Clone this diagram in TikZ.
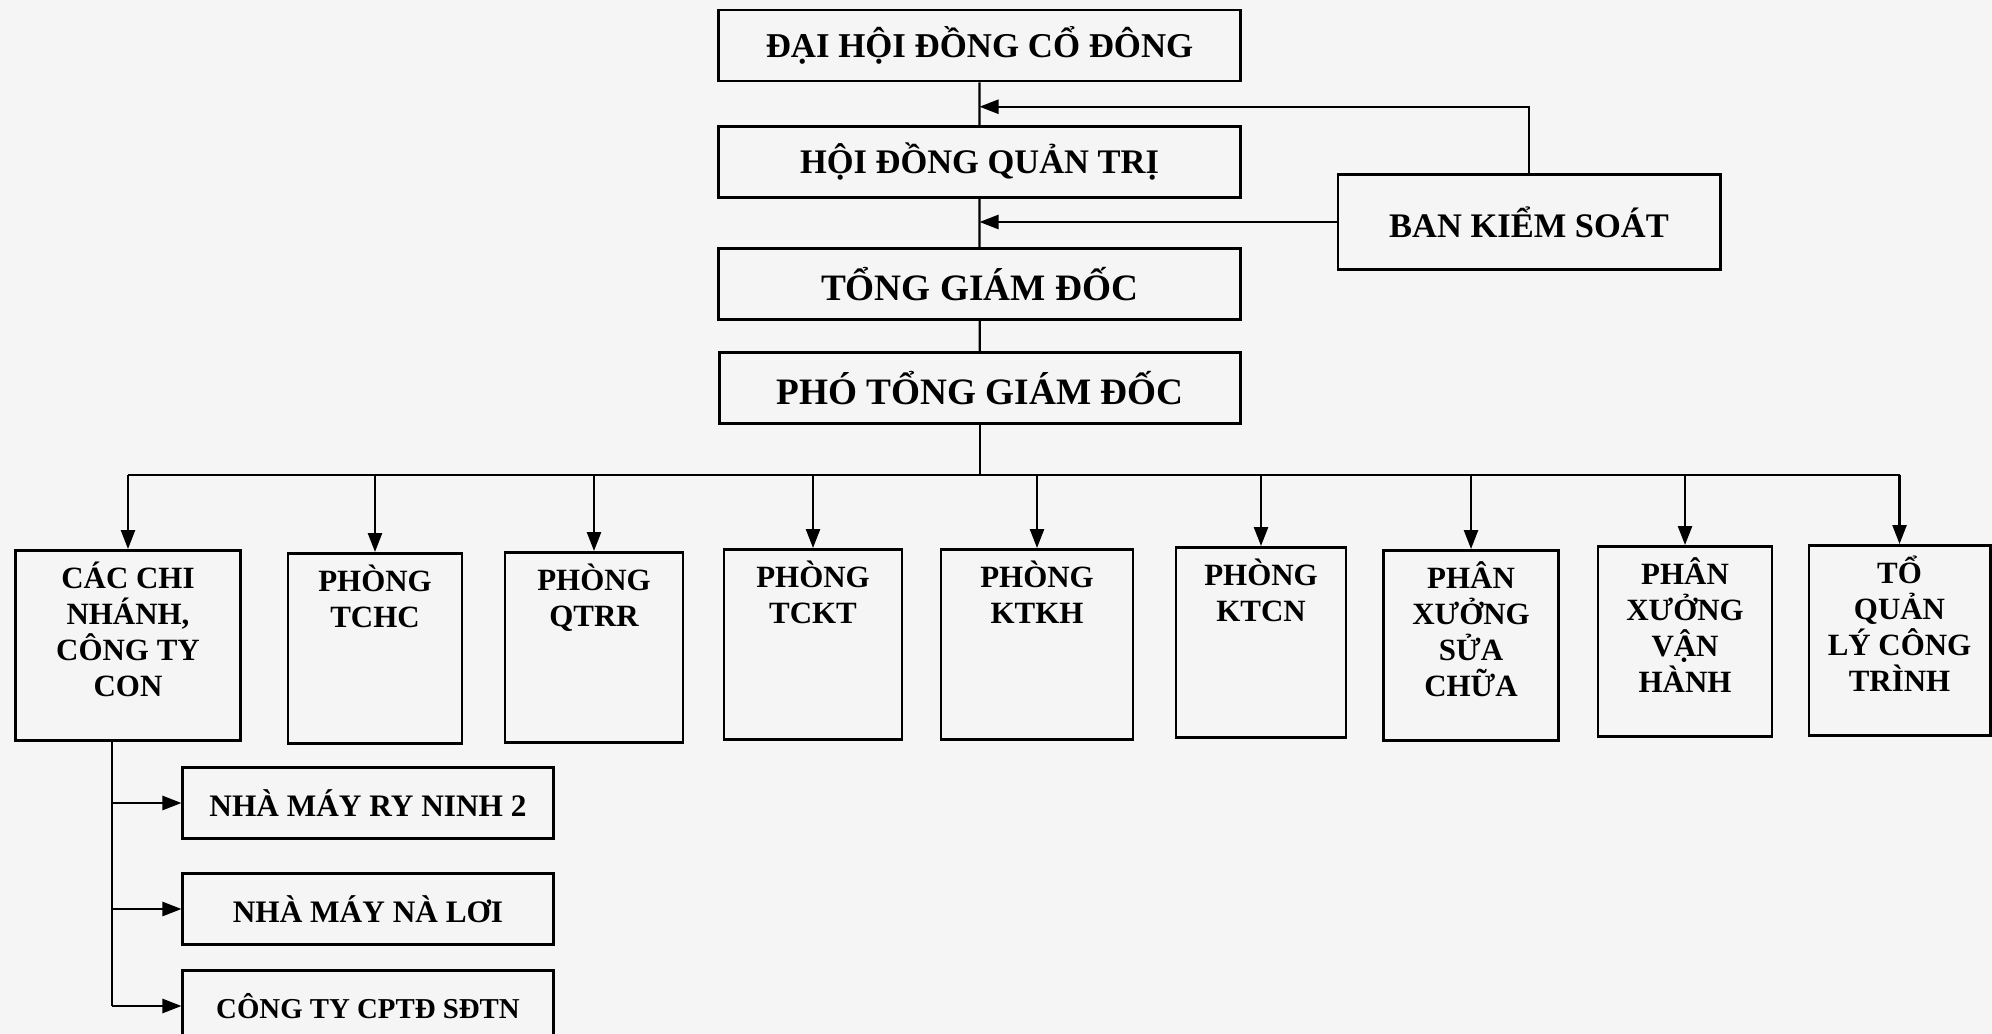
\documentclass[tikz,border=0pt]{standalone}
\usepackage{fontspec}
\setmainfont{Liberation Serif}
\usetikzlibrary{arrows.meta,calc}
\newcommand{\dlabel}[2]{\parbox[c][1.9cm][t]{#1}{\centering\lineskiplimit=-5pt\rule{0pt}{10.7pt}#2}}

\begin{document}
\begin{tikzpicture}[x=0.01cm,y=-0.01cm,>={Triangle[length=5.4pt,width=4pt]},line width=0.65pt,
  box/.style={draw,line width=0.8pt,minimum width=5.21cm,minimum height=0.71cm,font=\bfseries\fontsize{9.8}{11}\selectfont},
  unit/.style={draw,line width=0.8pt,minimum width=3.7cm,minimum height=0.71cm,font=\bfseries\fontsize{8.9}{10}\selectfont},
  dept/.style={draw,line width=0.8pt,inner sep=0pt,anchor=north,font=\bfseries\fontsize{8.8}{10.25}\selectfont}]

  \path[use as bounding box,fill=black!4] (0,0) rectangle (1992,1034);

  \node[box,font=\bfseries\fontsize{9.9}{11}\selectfont] (dh) at (979.5,45.5) {ĐẠI HỘI ĐỒNG CỔ ĐÔNG};
  \node[box] (hd) at (979.5,162) {HỘI ĐỒNG QUẢN TRỊ};
  \node[box,font=\bfseries\fontsize{10.6}{12}\selectfont] (tg) at (979.5,284) {TỔNG GIÁM ĐỐC};
  \node[box,font=\bfseries\fontsize{10.6}{12}\selectfont] (pt) at (980,388) {PHÓ TỔNG GIÁM ĐỐC};
  \node[box,minimum width=3.82cm,minimum height=0.95cm] (bk) at (1529,222) {BAN KIỂM SOÁT};

  \node[dept] (ccn) at (128,549) {\dlabel{2.25cm}{CÁC CHI\\NHÁNH,\\CÔNG TY\\CON}};
  \node[dept] (tchc) at (375,552) {\dlabel{1.74cm}{PHÒNG\\TCHC}};
  \node[dept] (qtrr) at (594,551) {\dlabel{1.78cm}{PHÒNG\\QTRR}};
  \node[dept] (tckt) at (813,548) {\dlabel{1.78cm}{PHÒNG\\TCKT}};
  \node[dept] (ktkh) at (1037,548) {\dlabel{1.92cm}{PHÒNG\\KTKH}};
  \node[dept] (ktcn) at (1261,546) {\dlabel{1.70cm}{PHÒNG\\KTCN}};
  \node[dept] (pxsc) at (1471,549) {\dlabel{1.75cm}{PHÂN\\XƯỞNG\\SỬA\\CHỮA}};
  \node[dept] (pxvh) at (1685,545) {\dlabel{1.74cm}{PHÂN\\XƯỞNG\\VẬN\\HÀNH}};
  \node[dept] (tq) at (1899.5,544) {\dlabel{1.81cm}{TỔ\\QUẢN\\LÝ CÔNG\\TRÌNH}};

  \node[unit] (nm1) at (368,803) {NHÀ MÁY RY NINH 2};
  \node[unit] (nm2) at (368,909) {NHÀ MÁY NÀ LƠI};
  \node[unit,font=\bfseries\fontsize{8.2}{10}\selectfont] (cp) at (368,1006) {CÔNG TY CPTĐ SĐTN};

  \coordinate (bus) at (0,475);
  \coordinate (trunk) at (112,1006);

  % chain of command
  \draw (dh) -- (hd) -- (tg) -- (pt);
  \draw[->] (bk.north) |- ($(dh.south)!0.57!(hd.north)$);
  \draw[->] (bk.west) -- (bk.west -| tg.north);

  % departments
  \draw (pt.south) -- (pt.south |- bus);
  \draw (ccn.north |- bus) -- (tq.north |- bus);
  \path[->]
    (ccn.north |- bus) edge (ccn)
    (tchc.north |- bus) edge (tchc)
    (qtrr.north |- bus) edge (qtrr)
    (tckt.north |- bus) edge (tckt)
    (ktkh.north |- bus) edge (ktkh)
    (ktcn.north |- bus) edge (ktcn)
    (pxsc.north |- bus) edge (pxsc)
    (pxvh.north |- bus) edge (pxvh)
    (tq.north |- bus) edge (tq);

  % branches
  \draw (ccn.south -| trunk) -- (trunk);
  \path[->]
    (trunk |- nm1) edge (nm1)
    (trunk |- nm2) edge (nm2)
    (trunk) edge (cp);
\end{tikzpicture}
\end{document}
